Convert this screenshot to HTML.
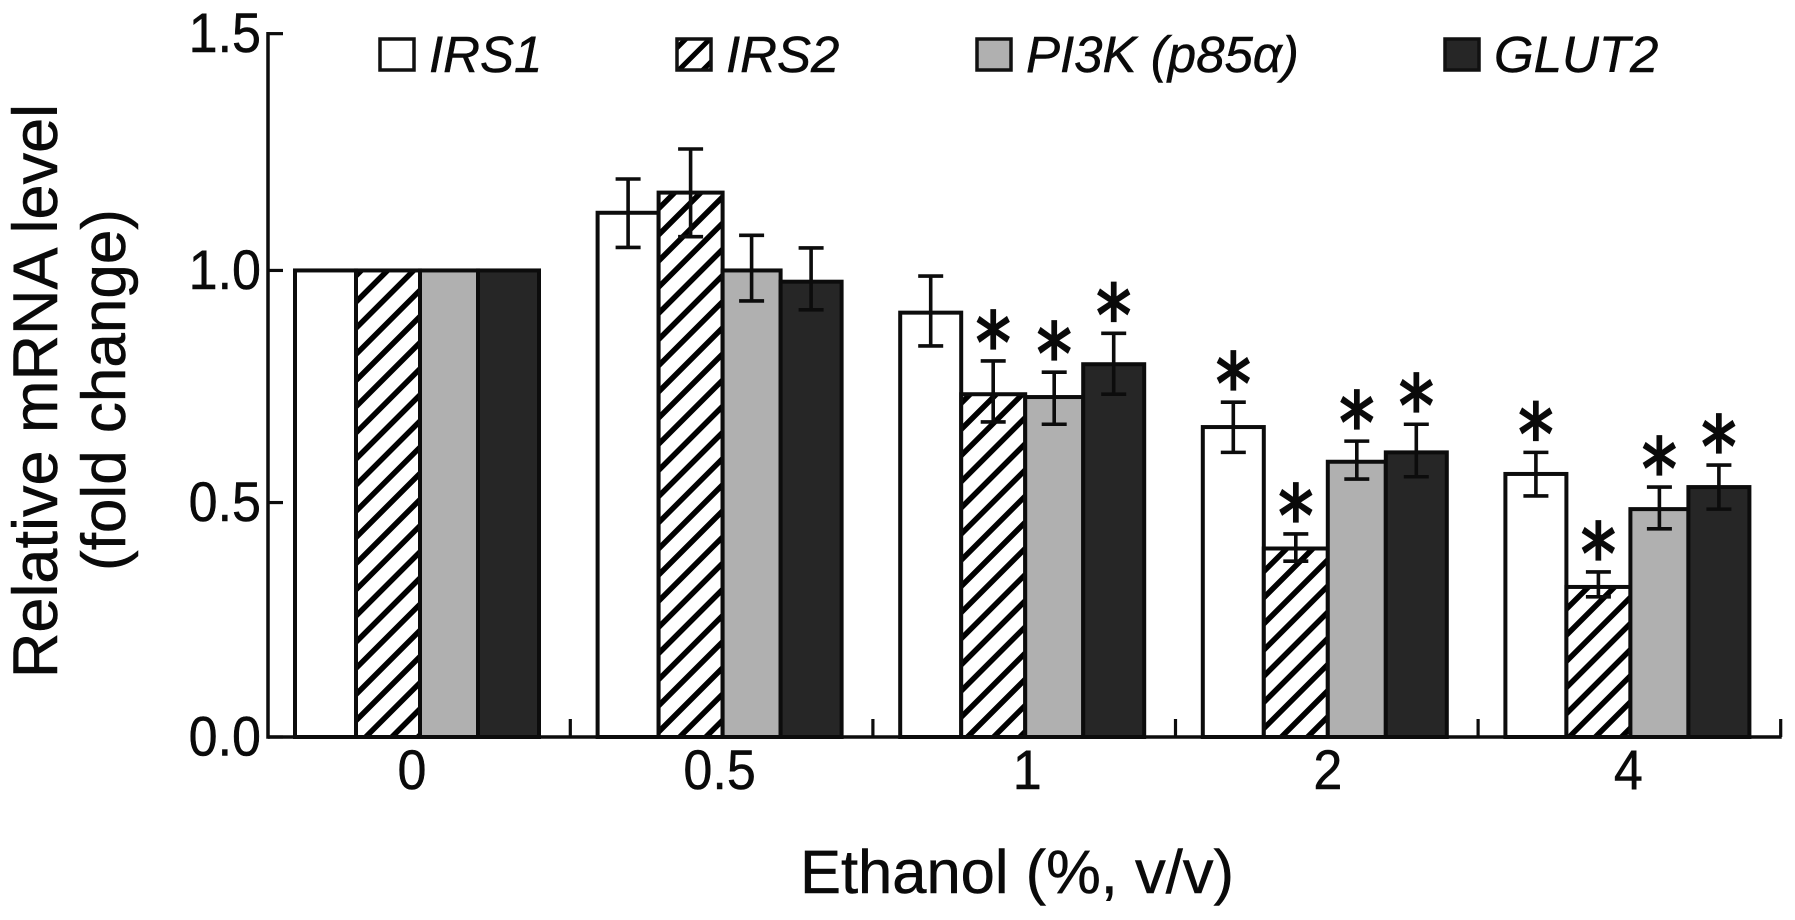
<!DOCTYPE html>
<html lang="en">
<head>
<meta charset="utf-8">
<title>Relative mRNA level by ethanol concentration</title>
<style>
  html, body { margin: 0; padding: 0; background: #fff; }
  svg { display: block; }
  text { font-family: "Liberation Sans", sans-serif; fill: #0a0a0a; stroke: #0a0a0a; stroke-width: 0.5px; }
</style>
</head>
<body>
<svg id="chart" width="1795" height="920" viewBox="0 0 1795 920" xmlns="http://www.w3.org/2000/svg">
  <defs>
    <pattern id="hatch" patternUnits="userSpaceOnUse" width="18.5" height="18.5" patternTransform="rotate(45)">
      <rect width="18.5" height="18.5" fill="#fff"/>
      <rect x="0" y="0" width="5.5" height="18.5" fill="#000"/>
    </pattern>
    <pattern id="hatch-legend" patternUnits="userSpaceOnUse" width="17" height="17" patternTransform="rotate(45)">
      <rect width="17" height="17" fill="#fff"/>
      <rect x="0" y="0" width="5" height="17" fill="#000"/>
    </pattern>
  </defs>
  <text transform="translate(57 391) rotate(-90)" text-anchor="middle" font-size="63">Relative mRNA level</text>
  <text transform="translate(125 390) rotate(-90)" text-anchor="middle" font-size="62">(fold change)</text>
  <text x="1017" y="893" text-anchor="middle" font-size="61.5">Ethanol (%, v/v)</text>
  <g id="marks"></g>
  <g>
    <g>
      <rect x="380" y="39" width="34" height="31" fill="#fff" stroke="#111" stroke-width="3.5"/>
      <text x="429" y="72" font-size="51" font-style="italic">IRS1</text>
    </g>
    <g>
      <rect x="677" y="39" width="34" height="31" fill="url(#hatch-legend)" stroke="#111" stroke-width="3.5"/>
      <text x="726" y="72" font-size="51" font-style="italic">IRS2</text>
    </g>
    <g>
      <rect x="977" y="39" width="34" height="31" fill="#b0b0b0" stroke="#111" stroke-width="3.5"/>
      <text x="1026" y="72" font-size="51" font-style="italic" style='font-family:"Liberation Sans","DejaVu Sans",sans-serif'>PI3K (p85α)</text>
    </g>
    <g>
      <rect x="1445" y="39" width="34" height="31" fill="#262626" stroke="#111" stroke-width="3.5"/>
      <text x="1494" y="72" font-size="51" font-style="italic">GLUT2</text>
    </g>
  </g>
</svg>
<script>
// Chart data
const categories = ["0", "0.5", "1", "2", "4"];
const yTickLabels = ["0.0", "0.5", "1.0", "1.5"];
const yTickValues = [0, 0.5, 0.995, 1.5];

const irs1Values = [0.995, 1.118, 0.905, 0.661, 0.561];
const irs1Upper = [null, 1.19, 0.983, 0.714, 0.607];
const irs1Lower = [null, 1.044, 0.834, 0.607, 0.514];
const irs1Significant = [false, false, false, true, true];

const irs2Values = [0.995, 1.161, 0.731, 0.402, 0.32];
const irs2Upper = [null, 1.254, 0.802, 0.433, 0.352];
const irs2Lower = [null, 1.067, 0.672, 0.375, 0.299];
const irs2Significant = [false, false, true, true, true];

const pi3kValues = [0.995, 0.995, 0.725, 0.587, 0.486];
const pi3kUpper = [null, 1.07, 0.778, 0.631, 0.533];
const pi3kLower = [null, 0.93, 0.667, 0.55, 0.444];
const pi3kSignificant = [false, false, true, true, true];

const glut2Values = [0.995, 0.971, 0.795, 0.607, 0.533];
const glut2Upper = [null, 1.043, 0.861, 0.667, 0.58];
const glut2Lower = [null, 0.911, 0.731, 0.555, 0.486];
const glut2Significant = [false, false, true, true, true];

const seriesList = [
  { key: "irs1", values: irs1Values, upper: irs1Upper, lower: irs1Lower, sig: irs1Significant, fill: "#ffffff" },
  { key: "irs2", values: irs2Values, upper: irs2Upper, lower: irs2Lower, sig: irs2Significant, fill: "url(#hatch)" },
  { key: "pi3k", values: pi3kValues, upper: pi3kUpper, lower: pi3kLower, sig: pi3kSignificant, fill: "#b0b0b0" },
  { key: "glut2", values: glut2Values, upper: glut2Upper, lower: glut2Lower, sig: glut2Significant, fill: "#262626" }
];

// Axis functions
const plotLeft = 268, plotRight = 1780, plotBottom = 737, pxPerUnit = 468.9;
const groupFirst = 295, groupStep = 302.6;
const barEdgeOffsets = [0, 61, 125, 183, 244];
const xLabelNudge = [-5, 0, 5, 3, 1];
const tickLabelSquash = 0.93;
function yScale(v) { return plotBottom - v * pxPerUnit; }
function groupX(i) { return groupFirst + i * groupStep; }
function barLeft(i, s) { return groupX(i) + barEdgeOffsets[s]; }
function barRight(i, s) { return groupX(i) + barEdgeOffsets[s + 1]; }
function groupCenter(i) { return groupX(i) + barEdgeOffsets[4] / 2; }

const root = document.getElementById("marks");
const SVGNS = "http://www.w3.org/2000/svg";
function make(tag, attrs, parent) {
  const el = document.createElementNS(SVGNS, tag);
  for (const k in attrs) el.setAttribute(k, attrs[k]);
  (parent || root).appendChild(el);
  return el;
}
const ink = "#0c0c0c";

// Bars
seriesList.forEach(function (series, s) {
  series.values.forEach(function (v, i) {
    const top = yScale(v);
    const bar = make("rect", {
      x: barLeft(i, s), y: top,
      width: barRight(i, s) - barLeft(i, s),
      height: plotBottom - top,
      fill: series.fill, stroke: ink, "stroke-width": 4
    });
    
    
  });
});

// Error bars and significance stars
seriesList.forEach(function (series, s) {
  series.values.forEach(function (v, i) {
    if (series.upper[i] === null) return;
    const cx = (barLeft(i, s) + barRight(i, s)) / 2;
    const yU = yScale(series.upper[i]);
    const yL = yScale(series.lower[i]);
    const err = make("path", {
      d: "M" + (cx - 12.5) + " " + yU + "H" + (cx + 12.5) + "M" + cx + " " + yU + "V" + yL + "M" + (cx - 12.5) + " " + yL + "H" + (cx + 12.5),
      fill: "none", stroke: ink, "stroke-width": 3.6
    });
    
    
    if (series.sig[i]) {
      const star = make("text", {
        transform: "translate(" + cx + " " + (yU + 11.5) + ") scale(0.92 1.1)",
        "text-anchor": "middle", "font-size": 76
      });
      star.style.fontFamily = '"DejaVu Sans", sans-serif';
      star.style.strokeWidth = '2px';
      star.textContent = "*";
      
      
    }
  });
});

// Axes
const yAxis = make("line", { x1: plotLeft, x2: plotLeft, y1: yScale(1.5) - 1.7, y2: plotBottom + 1.7, stroke: ink, "stroke-width": 3.5 });


const xAxis = make("line", { x1: plotLeft, x2: plotRight + 1.7, y1: plotBottom, y2: plotBottom, stroke: ink, "stroke-width": 3.5 });



yTickValues.forEach(function (v, i) {
  const tick = make("line", { x1: plotLeft, x2: plotLeft + 15, y1: yScale(v), y2: yScale(v), stroke: ink, "stroke-width": 3.2 });
  
  
  const label = make("text", {
    transform: "translate(261 " + (yScale(v) + 18.5) + ") scale(" + tickLabelSquash + " 1)",
    "text-anchor": "end", "font-size": 56
  });
  label.textContent = yTickLabels[i];
  
  
});

categories.forEach(function (c, i) {
  const tx = groupX(i) + barEdgeOffsets[4] + (groupStep - barEdgeOffsets[4]) / 2 + 2;
  const tick = make("line", { x1: tx, x2: tx, y1: plotBottom - 18, y2: plotBottom, stroke: ink, "stroke-width": 3.2 });
  
  
  const label = make("text", {
    transform: "translate(" + (groupCenter(i) + xLabelNudge[i]) + " 789) scale(" + tickLabelSquash + " 1)",
    "text-anchor": "middle", "font-size": 56
  });
  label.textContent = c;
  
  
});
</script>
</body>
</html>
